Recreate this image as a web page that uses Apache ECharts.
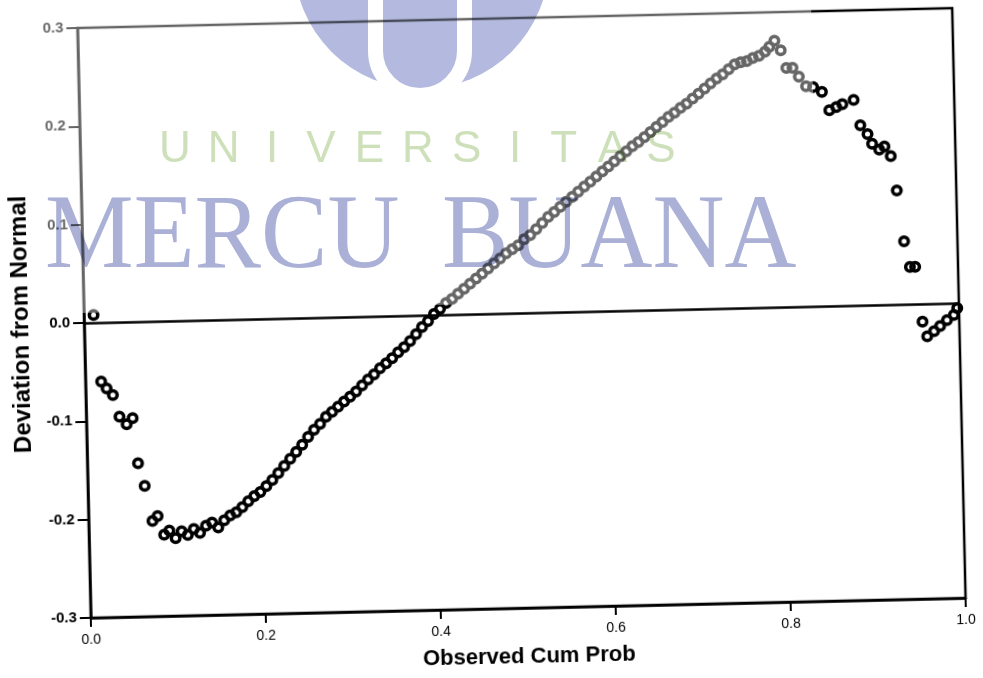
<!DOCTYPE html>
<html>
<head>
<meta charset="utf-8">
<script src="https://cdn.jsdelivr.net/npm/echarts@6/dist/echarts.min.js"></script>
<style>
  html, body { margin: 0; padding: 0; background: #fff; }
  #wrap { position: relative; width: 983px; height: 678px; overflow: hidden; }
  /* the scan is slightly tilted, so the plot is turned a little */
  #chart { position: absolute; left: 0; top: 0; width: 983px; height: 678px;
           transform: rotate(-1.3deg); transform-origin: 521.75px 313.5px; }
  /* watermark layer, multiplied over the plot */
  #mark { position: absolute; left: 0; top: 0; width: 983px; height: 678px;
          mix-blend-mode: multiply; pointer-events: none; }
</style>
</head>
<body>
<div id="wrap">
  <div id="chart"></div>
  <div id="mark"></div>
</div>
<script>
// Detrended normal P-P plot
const obsCumProb = [
  0.011, 0.018, 0.024, 0.031, 0.038, 0.046, 0.053, 0.058, 0.065, 0.073,
  0.079, 0.086, 0.092, 0.099, 0.106, 0.113, 0.120, 0.127, 0.134, 0.141,
  0.148, 0.155, 0.162, 0.169, 0.176, 0.183, 0.190, 0.197, 0.204, 0.211,
  0.218, 0.225, 0.232, 0.239, 0.246, 0.253, 0.260, 0.267, 0.274, 0.281,
  0.288, 0.295, 0.302, 0.309, 0.316, 0.323, 0.330, 0.337, 0.344, 0.351,
  0.358, 0.365, 0.372, 0.379, 0.386, 0.393, 0.400, 0.407, 0.414, 0.421,
  0.428, 0.435, 0.442, 0.449, 0.456, 0.463, 0.470, 0.477, 0.484, 0.491,
  0.498, 0.505, 0.512, 0.519, 0.526, 0.533, 0.540, 0.547, 0.554, 0.561,
  0.568, 0.575, 0.582, 0.589, 0.596, 0.603, 0.610, 0.617, 0.624, 0.631,
  0.638, 0.645, 0.652, 0.659, 0.666, 0.673, 0.680, 0.687, 0.694, 0.701,
  0.708, 0.715, 0.722, 0.729, 0.736, 0.743, 0.750, 0.757, 0.764, 0.771,
  0.778, 0.785, 0.790, 0.796, 0.803, 0.809, 0.816, 0.823, 0.831, 0.839,
  0.849, 0.857, 0.865, 0.872, 0.885, 0.892, 0.900, 0.905, 0.913, 0.919,
  0.926, 0.932, 0.939, 0.945, 0.951, 0.958, 0.963, 0.971, 0.978, 0.986,
  0.994, 0.998
];
const deviation = [
  0.008, -0.060, -0.067, -0.074, -0.096, -0.104, -0.098, -0.144, -0.167, -0.203,
  -0.198, -0.217, -0.213, -0.221, -0.214, -0.218, -0.212, -0.216, -0.209, -0.206,
  -0.211, -0.204, -0.199, -0.196, -0.191, -0.185, -0.180, -0.176, -0.170, -0.164,
  -0.157, -0.150, -0.143, -0.136, -0.129, -0.121, -0.114, -0.108, -0.101, -0.096,
  -0.091, -0.086, -0.081, -0.076, -0.070, -0.064, -0.059, -0.053, -0.048, -0.043,
  -0.037, -0.032, -0.026, -0.019, -0.012, -0.006, 0.001, 0.006, 0.012, 0.016,
  0.021, 0.026, 0.031, 0.036, 0.041, 0.046, 0.051, 0.056, 0.061, 0.065,
  0.069, 0.075, 0.079, 0.085, 0.091, 0.097, 0.102, 0.107, 0.112, 0.117,
  0.122, 0.127, 0.132, 0.137, 0.142, 0.147, 0.152, 0.157, 0.162, 0.167,
  0.171, 0.176, 0.181, 0.186, 0.191, 0.196, 0.200, 0.205, 0.209, 0.214,
  0.219, 0.224, 0.229, 0.234, 0.238, 0.243, 0.248, 0.250, 0.251, 0.254,
  0.256, 0.260, 0.265, 0.271, 0.261, 0.243, 0.243, 0.234, 0.224, 0.223,
  0.218, 0.199, 0.202, 0.205, 0.209, 0.183, 0.174, 0.164, 0.158, 0.161,
  0.151, 0.116, 0.064, 0.038, 0.038, -0.018, -0.033, -0.028, -0.023, -0.017,
  -0.012, -0.005
];
const xTicks = [0, 0.2, 0.4, 0.6, 0.8, 1.0];
const yTicks = [-0.3, -0.2, -0.1, 0, 0.1, 0.2, 0.3];

// watermark text
const campusWord = 'UNIVERSITAS';
const nameWords = ['MERCU', 'BUANA'];

const points = obsCumProb.map((x, i) => [x, deviation[i]]);
const fmt = v => v.toFixed(1);

const chart = echarts.init(document.getElementById('chart'));
chart.setOption({
  animation: false,
  grid: { left: 84, right: 24, top: 18, bottom: 70, show: true,
          borderColor: '#000', borderWidth: 2.5 },
  xAxis: {
    type: 'value',
    min: xTicks[0], max: xTicks[xTicks.length - 1],
    interval: +(xTicks[1] - xTicks[0]).toFixed(2),
    name: 'Observed Cum Prob', nameLocation: 'middle', nameGap: 38,
    nameTextStyle: { fontFamily: 'Liberation Sans', fontWeight: 'bold', fontSize: 22, color: '#000' },
    axisLine: { show: true, onZero: false, lineStyle: { color: '#000', width: 2.5 } },
    axisTick: { show: true, inside: false, length: 9, lineStyle: { color: '#000', width: 2 } },
    axisLabel: { margin: 15, fontFamily: 'Liberation Sans', fontSize: 14, color: '#000', formatter: fmt },
    splitLine: { show: false }
  },
  yAxis: {
    type: 'value',
    min: yTicks[0], max: yTicks[yTicks.length - 1],
    interval: +(yTicks[1] - yTicks[0]).toFixed(2),
    name: 'Deviation from Normal', nameLocation: 'middle', nameGap: 46,
    nameTextStyle: { fontFamily: 'Liberation Sans', fontWeight: 'bold', fontSize: 24, color: '#000' },
    axisLine: { show: true, onZero: false, lineStyle: { color: '#000', width: 2.5 } },
    axisTick: { show: true, inside: false, length: 11, lineStyle: { color: '#000', width: 2 } },
    axisLabel: { margin: 14, fontFamily: 'Liberation Sans', fontWeight: 'bold', fontSize: 15, color: '#000', formatter: fmt },
    splitLine: { show: false }
  },
  series: [{
    type: 'scatter',
    data: points,
    symbol: 'circle',
    symbolSize: 8.5,
    itemStyle: { color: 'rgba(0,0,0,0)', borderColor: '#000', borderWidth: 3.5, opacity: 1 },
    markLine: {
      silent: true,
      symbol: ['none', 'none'],
      label: { show: false },
      lineStyle: { color: '#000', width: 2.5, type: 'solid' },
      data: [{ yAxis: 0 }]
    }
  }],
  // light veil of the watermark box
  graphic: [{
    type: 'rect', z: 100, silent: true,
    shape: { x: 42, y: -40, width: 776, height: 343 },
    style: { fill: 'rgba(255,255,255,0.4)' }
  }]
});

const mark = echarts.init(document.getElementById('mark'));
const letters = campusWord.split('').map((ch, i) => ({
  type: 'text', x: 175 + i * 48.6, y: 150, silent: true,
  style: { text: ch, font: '44px "Liberation Sans"', fill: '#cde0ba',
           align: 'center', verticalAlign: 'middle', textAlign: 'center', textVerticalAlign: 'middle' }
}));
mark.setOption({
  animation: false,
  graphic: { elements: [
    { type: 'circle', silent: true, shape: { cx: 421.5, cy: -38.5, r: 127.5 }, style: { fill: '#b4badf' } },
    { type: 'arc', silent: true, shape: { cx: 420, cy: 51, r: 44.5, startAngle: 0, endAngle: Math.PI, clockwise: true },
      style: { fill: null, stroke: '#fff', lineWidth: 15 } },
    { type: 'line', silent: true, shape: { x1: 375.5, y1: -10, x2: 375.5, y2: 51 }, style: { stroke: '#fff', lineWidth: 15 } },
    { type: 'line', silent: true, shape: { x1: 464.5, y1: -10, x2: 464.5, y2: 51 }, style: { stroke: '#fff', lineWidth: 15 } },
    ...letters,
    { type: 'text', x: 45, y: 239, scaleX: 0.89, scaleY: 0.95, silent: true,
      style: { text: nameWords[0], font: '112px "Liberation Serif"', fill: '#aab0d6',
               align: 'left', verticalAlign: 'middle', textAlign: 'left', textVerticalAlign: 'middle' } },
    { type: 'text', x: 442, y: 239, scaleX: 0.89, scaleY: 0.95, silent: true,
      style: { text: nameWords[1], font: '112px "Liberation Serif"', fill: '#aab0d6',
               align: 'left', verticalAlign: 'middle', textAlign: 'left', textVerticalAlign: 'middle' } }
  ] }
});

window.addEventListener('resize', () => { chart.resize(); mark.resize(); });
</script>
</body>
</html>
